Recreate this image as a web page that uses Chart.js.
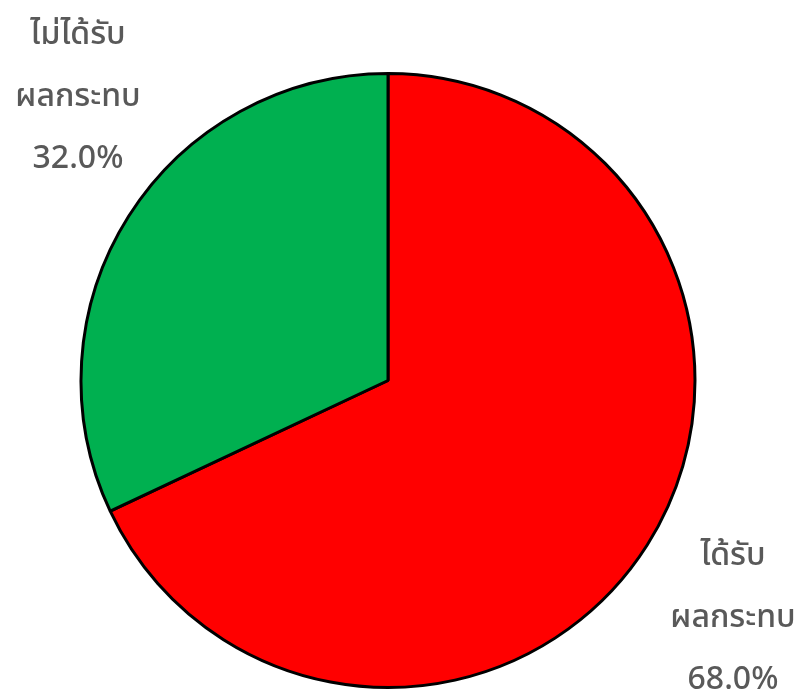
<!DOCTYPE html>
<html>
<head>
<meta charset="utf-8">
<script src="https://cdn.jsdelivr.net/npm/chart.js@4"></script>
<style>
  html, body { margin: 0; padding: 0; background: #fff; }
  #wrap { width: 803px; height: 697px; }
</style>
</head>
<body>
<div id="wrap"><canvas id="pie"></canvas></div>
<script>
const categories = ["ได้รับ ผลกระทบ", "ไม่ได้รับ ผลกระทบ"];
const labelLines = [["ได้รับ", "ผลกระทบ"], ["ไม่ได้รับ", "ผลกระทบ"]];
const values = [68.0, 32.0];
const colors = ["#FF0000", "#00B050"];

// where each label block sits (centre x, centre y of the middle line)
const labelSpots = [[733, 618], [78, 97]];

const labelPlugin = {
  id: "pieLabels",
  afterDraw(chart) {
    const ctx = chart.ctx;
    const ds = chart.data.datasets[0];
    const total = ds.data.reduce((a, b) => a + b, 0);
    ctx.save();
    ctx.fillStyle = "#595959";
    ctx.font = "500 32px 'Noto Sans', 'Noto Sans Thai', 'Open Sans', sans-serif";
    ctx.textAlign = "center";
    ctx.textBaseline = "middle";
    ds.data.forEach((v, i) => {
      const lines = labelLines[i].concat([(v / total * 100).toFixed(1) + "%"]);
      const [cx, cy] = labelSpots[i];
      lines.forEach((t, j) => {
        ctx.fillText(t, cx, cy + (j - 1) * 62);
      });
    });
    ctx.restore();
  }
};

new Chart(document.getElementById("pie"), {
  type: "pie",
  data: {
    labels: categories,
    datasets: [{
      data: values,
      backgroundColor: colors,
      borderColor: "#000000",
      borderWidth: 3
    }]
  },
  options: {
    responsive: true,
    maintainAspectRatio: false,
    animation: false,
    layout: { padding: { top: 72, bottom: 8, left: 79, right: 106 } },
    plugins: {
      legend: { display: false },
      tooltip: { enabled: false }
    }
  },
  plugins: [labelPlugin]
});
</script>
</body>
</html>
